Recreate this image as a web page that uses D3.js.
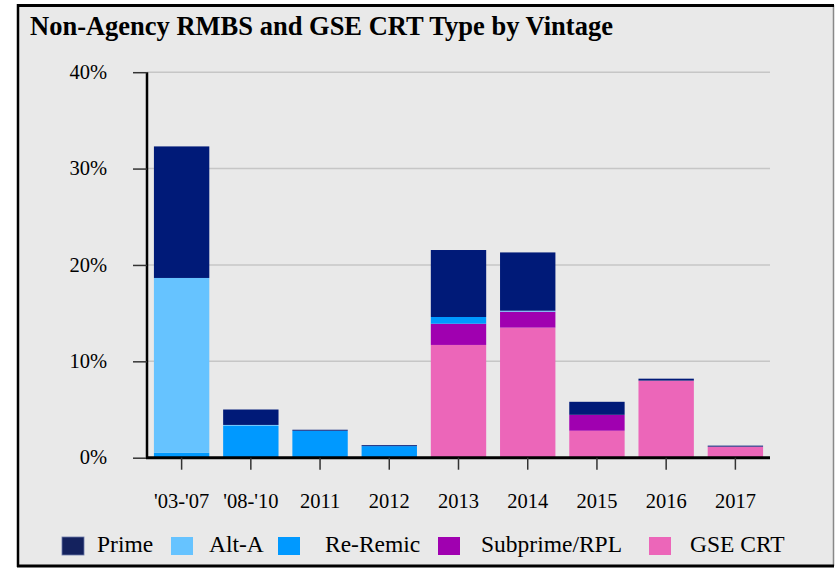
<!DOCTYPE html>
<html>
<head>
<meta charset="UTF-8">
<title>Non-Agency RMBS and GSE CRT Type by Vintage</title>
<script src="https://cdn.jsdelivr.net/npm/d3@7"></script>
<style>
  body { margin: 0; background: #fff; }
  text { font-family: "Liberation Serif", "Times New Roman", serif; fill: #000; }
</style>
</head>
<body>
<script>
// data (percent of total)
var vintages = ["'03-'07", "'08-'10", "2011", "2012", "2013", "2014", "2015", "2016", "2017"];
var seriesNames = ["GSE CRT", "Subprime/RPL", "Re-Remic", "Alt-A", "Prime"];  // bottom -> top
var gseCrt   = [0, 0, 0, 0, 11.7, 13.5, 2.8, 8.0, 1.15];
var subprime = [0, 0, 0, 0, 2.2, 1.65, 1.65, 0, 0];
var reRemic  = [0.5, 3.3, 2.8, 1.2, 0.7, 0, 0, 0, 0];
var altA     = [18.15, 0.1, 0, 0, 0, 0.1, 0, 0, 0];
var prime    = [13.65, 1.6, 0.1, 0.1, 6.95, 6.05, 1.35, 0.2, 0.1];
var yTicks   = [0, 10, 20, 30, 40];
var legendOrder = ["Prime", "Alt-A", "Re-Remic", "Subprime/RPL", "GSE CRT"];

var colors = {
  "Prime": "#001a78",
  "Alt-A": "#66c3ff",
  "Re-Remic": "#0099ff",
  "Subprime/RPL": "#a000b0",
  "GSE CRT": "#ec66b9"
};

var rows = vintages.map(function(v, i) {
  return {
    vintage: v,
    "GSE CRT": gseCrt[i],
    "Subprime/RPL": subprime[i],
    "Re-Remic": reRemic[i],
    "Alt-A": altA[i],
    "Prime": prime[i]
  };
});

var W = 836, H = 569;
var svg = d3.select("body").append("svg").attr("width", W).attr("height", H);

// panel + frame
svg.append("rect").attr("x", 18).attr("y", 5).attr("width", 816).attr("height", 561)
  .attr("fill", "#e9e9e9");
svg.append("line").attr("x1", 833.5).attr("x2", 833.5).attr("y1", 5).attr("y2", 566)
  .attr("stroke", "#888").attr("stroke-width", 1.5);
svg.append("line").attr("x1", 18).attr("x2", 18).attr("y1", 4).attr("y2", 567)
  .attr("stroke", "#000").attr("stroke-width", 2.5);
svg.append("line").attr("x1", 17).attr("x2", 834).attr("y1", 5.5).attr("y2", 5.5)
  .attr("stroke", "#000").attr("stroke-width", 3);
svg.append("line").attr("x1", 17).attr("x2", 834).attr("y1", 566).attr("y2", 566)
  .attr("stroke", "#000").attr("stroke-width", 3);

svg.append("text").attr("x", 30).attr("y", 35)
  .attr("font-size", 26.5).attr("font-weight", "bold")
  .text("Non-Agency RMBS and GSE CRT Type by Vintage");

var x0 = 147, x1 = 770, yTop = 72.2, yBot = 457.7;
var x = d3.scaleBand().domain(vintages).range([x0, x1]).paddingInner(0.2).paddingOuter(0.1);
var y = d3.scaleLinear().domain([0, 40]).range([yBot, yTop]);

// gridlines
svg.append("g").selectAll("line").data(yTicks.filter(function(d) { return d > 0; }))
  .enter().append("line")
  .attr("x1", x0).attr("x2", x1)
  .attr("y1", function(d) { return y(d); }).attr("y2", function(d) { return y(d); })
  .attr("stroke", "#c6c6c6").attr("stroke-width", 1.5);

// stacked bars
var stack = d3.stack().keys(seriesNames);
var layers = stack(rows);
svg.append("g").selectAll("g").data(layers).enter().append("g")
  .attr("fill", function(d) { return colors[d.key]; })
  .selectAll("rect").data(function(d) { return d; }).enter().append("rect")
  .attr("x", function(d) { return x(d.data.vintage); })
  .attr("width", x.bandwidth())
  .attr("y", function(d) { return y(d[1]); })
  .attr("height", function(d) { return Math.max(0, y(d[0]) - y(d[1])); });

// y axis
var yAxis = svg.append("g").attr("transform", "translate(" + x0 + ",0)")
  .call(d3.axisLeft(y).tickValues(yTicks).tickSize(14).tickPadding(26)
    .tickFormat(function(d) { return d + "%"; }));
yAxis.select(".domain").attr("stroke", "#000").attr("stroke-width", 2.5)
  .attr("d", "M0," + yTop + "V" + yBot);
yAxis.selectAll(".tick line").attr("stroke", "#333").attr("stroke-width", 1.5);
yAxis.selectAll(".tick text").attr("font-size", 20.5)
  .attr("font-family", "Liberation Serif, serif").attr("dy", "0.3em");

// x axis
var xAxis = svg.append("g").attr("transform", "translate(0," + yBot + ")")
  .call(d3.axisBottom(x).tickSize(12).tickPadding(24));
xAxis.select(".domain").attr("stroke", "#000").attr("stroke-width", 3)
  .attr("d", "M" + (x0 - 1) + ",0H" + x1);
xAxis.selectAll(".tick line").attr("stroke", "#333").attr("stroke-width", 1.5);
xAxis.selectAll(".tick text").attr("font-size", 20.5)
  .attr("font-family", "Liberation Serif, serif");

// legend
var legendX = [62, 171, 278, 438, 649];
var legendTextX = [97, 209, 325, 481, 690];
var lg = svg.append("g");
legendOrder.forEach(function(name, i) {
  lg.append("rect").attr("x", legendX[i]).attr("y", 537).attr("width", 22).attr("height", 18)
    .attr("fill", name === "Prime" ? "#14225e" : colors[name])
    .attr("stroke", name === "Prime" ? "#6a78a8" : "none").attr("stroke-width", 0.8);
  lg.append("text").attr("x", legendTextX[i]).attr("y", 552)
    .attr("font-size", 23.5).text(name);
});
</script>
</body>
</html>
